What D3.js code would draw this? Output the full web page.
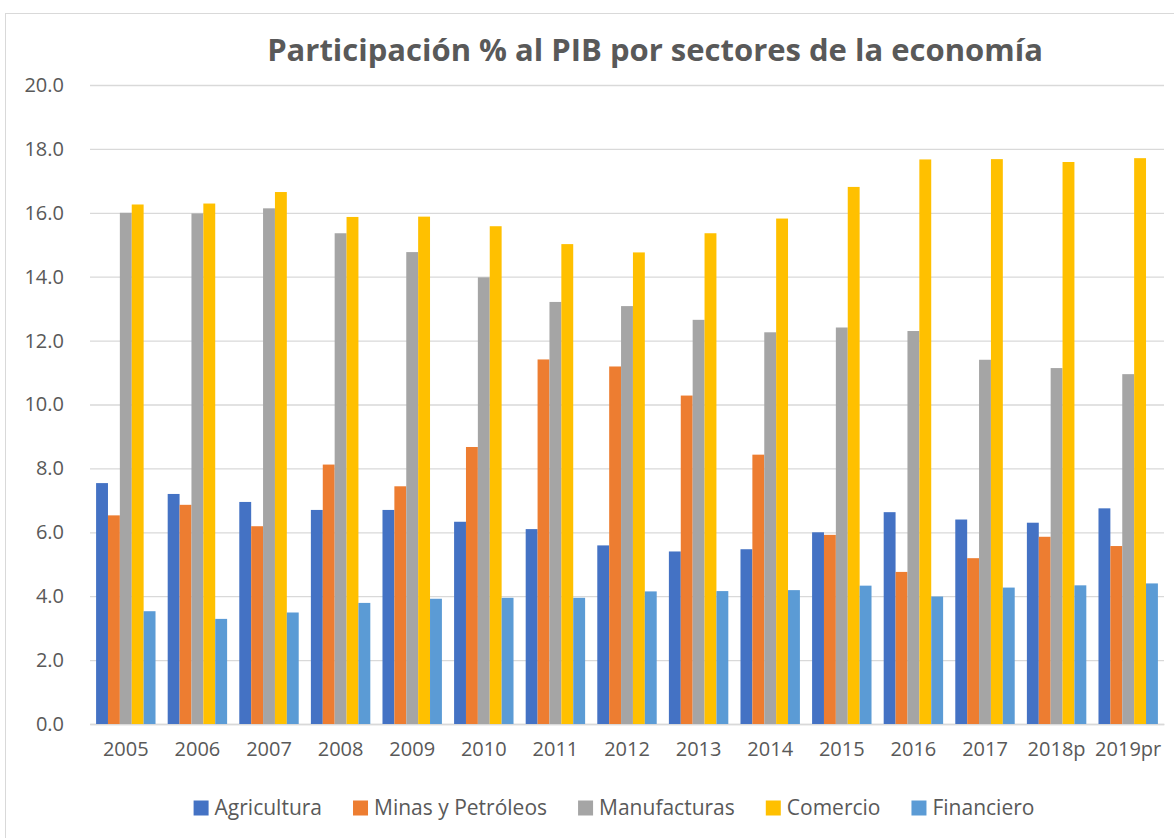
<!DOCTYPE html>
<html>
<head>
<meta charset="utf-8">
<script src="https://cdn.jsdelivr.net/npm/d3@7"></script>
<style>
    body { margin: 0; background: #fff; }
    text { font-family: "Open Sans", sans-serif; fill: #595959; }
</style>
</head>
<body>
<div id="chart-area"></div>
<script>
// Data
const years = ["2005", "2006", "2007", "2008", "2009", "2010", "2011", "2012", "2013", "2014", "2015", "2016", "2017", "2018p", "2019pr"];
const sectors = ["Agricultura", "Minas y Petróleos", "Manufacturas", "Comercio", "Financiero"];
const agricultura = [7.54, 7.20, 6.95, 6.70, 6.70, 6.33, 6.10, 5.59, 5.40, 5.47, 6.00, 6.63, 6.40, 6.30, 6.75];
const minas = [6.53, 6.86, 6.19, 8.12, 7.44, 8.67, 11.41, 11.19, 10.28, 8.43, 5.92, 4.76, 5.19, 5.86, 5.57];
const manufacturas = [16.00, 15.98, 16.14, 15.36, 14.77, 13.98, 13.21, 13.08, 12.65, 12.26, 12.41, 12.30, 11.40, 11.14, 10.95];
const comercio = [16.26, 16.29, 16.65, 15.87, 15.88, 15.58, 15.02, 14.76, 15.36, 15.82, 16.81, 17.67, 17.68, 17.59, 17.71];
const financiero = [3.53, 3.29, 3.49, 3.79, 3.92, 3.95, 3.95, 4.15, 4.16, 4.19, 4.33, 3.99, 4.27, 4.34, 4.40];
const yTicks = [0, 2, 4, 6, 8, 10, 12, 14, 16, 18, 20];
const colors = ["#4472C4", "#ED7D31", "#A5A5A5", "#FFC000", "#5B9BD5"];

const seriesValues = [agricultura, minas, manufacturas, comercio, financiero];

const W = 1174;
const H = 838;
const margin = { top: 85, right: 10, bottom: 114, left: 90 };
const width = W - margin.left - margin.right;
const height = H - margin.top - margin.bottom;

const svg = d3
    .select("#chart-area")
    .append("svg")
    .attr("width", W)
    .attr("height", H);

// chart frame
svg.append("rect")
    .attr("x", 5.5)
    .attr("y", 13.5)
    .attr("width", W)
    .attr("height", H)
    .attr("fill", "none")
    .attr("stroke", "#d9d9d9");

const g = svg
    .append("g")
    .attr("transform", `translate(${margin.left}, ${margin.top})`);

//Scales
const xScale = d3.scaleBand().domain(years).range([0, width]).paddingInner(0.17).paddingOuter(0.085);
const xInner = d3.scaleBand().domain(sectors).range([0, xScale.bandwidth()]);
const yScale = d3.scaleLinear().domain([0, 20]).range([height, 0]);
const color = d3.scaleOrdinal().domain(sectors).range(colors);

// Gridlines
g.append("g")
    .attr("class", "grid")
    .call(d3.axisLeft(yScale).tickValues(yTicks).tickSize(-width).tickFormat(""))
    .call((sel) => sel.select(".domain").remove())
    .selectAll("line")
    .attr("stroke", "#d9d9d9")
    .attr("stroke-width", 1.3);

// Y axis labels
g.append("g")
    .attr("class", "y-axis")
    .call(d3.axisLeft(yScale).tickValues(yTicks).tickSize(0).tickPadding(26).tickFormat(d3.format(".1f")))
    .call((sel) => sel.select(".domain").remove())
    .selectAll("text")
    .attr("font-size", "20px")
    .attr("fill", "#595959");

// X axis
g.append("g")
    .attr("class", "x-axis")
    .attr("transform", `translate(0, ${height})`)
    .call(d3.axisBottom(xScale).tickSize(0).tickPadding(18))
    .call((sel) => sel.select(".domain").attr("stroke", "#d9d9d9").attr("stroke-width", 1.3))
    .selectAll("text")
    .attr("font-size", "20px")
    .attr("fill", "#595959");

// Bars
const rows = years.map((year, i) => ({
    year: year,
    values: sectors.map((s, j) => ({ sector: s, value: seriesValues[j][i] })),
}));

const groups = g
    .selectAll(".year-group")
    .data(rows)
    .enter()
    .append("g")
    .attr("class", "year-group")
    .attr("transform", (d) => `translate(${xScale(d.year)}, 0)`);

groups
    .selectAll("rect")
    .data((d) => d.values)
    .enter()
    .append("rect")
    .attr("x", (d) => xInner(d.sector))
    .attr("width", xInner.bandwidth())
    .attr("y", (d) => yScale(d.value))
    .attr("height", (d) => height - yScale(d.value))
    .attr("fill", (d) => color(d.sector));

// Title
svg.append("text")
    .attr("x", 655)
    .attr("y", 61)
    .attr("text-anchor", "middle")
    .attr("font-size", "31px")
    .attr("font-weight", "bold")
    .text("Participación % al PIB por sectores de la economía");

// Legend
const legend = svg.append("g").attr("class", "legend");
let lx = 0;
sectors.forEach((s) => {
    const item = legend.append("g").attr("transform", `translate(${lx}, 0)`);
    item.append("rect")
        .attr("width", 15)
        .attr("height", 15)
        .attr("y", -7.5)
        .attr("fill", color(s));
    const t = item.append("text")
        .attr("x", 21)
        .attr("dy", "0.35em")
        .attr("font-size", "21px")
        .text(s);
    lx += 21 + t.node().getComputedTextLength() + 31;
});
const legendWidth = lx - 31;
legend.attr("transform", `translate(${614 - legendWidth / 2}, 808)`);
</script>
</body>
</html>
